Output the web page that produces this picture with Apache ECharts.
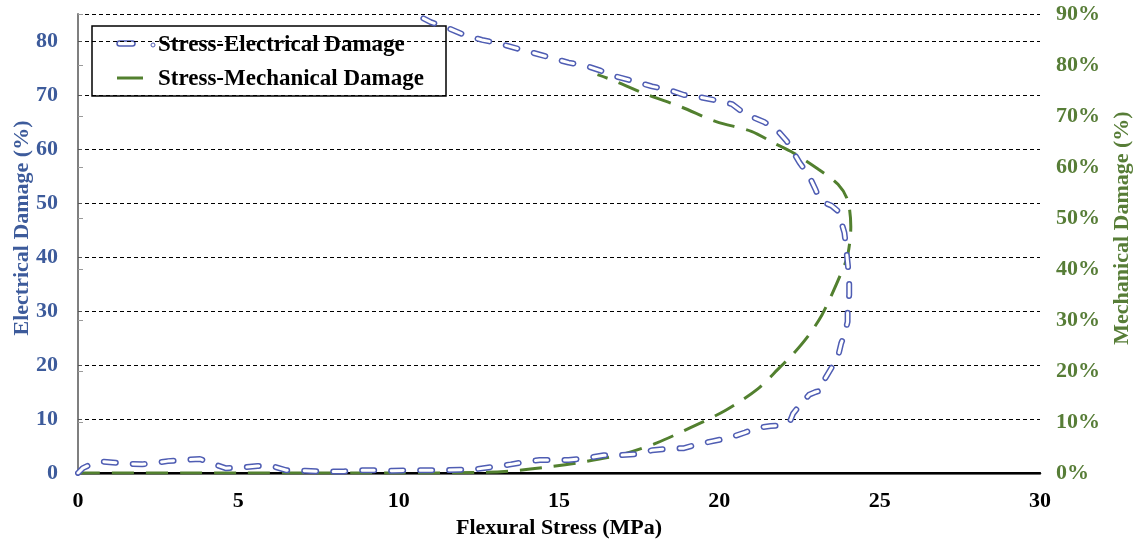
<!DOCTYPE html>
<html>
<head>
<meta charset="utf-8">
<script src="https://cdn.jsdelivr.net/npm/echarts@6/dist/echarts.min.js"></script>
<style>
  html, body { margin: 0; padding: 0; background: #fff; overflow: hidden; }
  #chart { width: 1138px; height: 544px; }
</style>
</head>
<body>
<div id="chart"></div>
<script>
// Flexural stress (MPa) vs. electrical damage (%) — loading then softening branch
const elecStress = [0, 0.15, 0.4, 0.8, 1.2, 1.6, 2.0, 2.4, 2.8, 3.3, 3.8, 4.2, 4.6, 5.1, 5.6, 6.1, 6.5, 7.1, 7.7, 8.3,
  8.8, 9.3, 9.8, 10.3, 10.8, 11.4, 11.9, 12.4, 13.0, 13.5, 14.0, 14.4, 14.9, 15.3, 15.9, 16.4, 16.9, 17.4, 17.9, 18.4,
  18.9, 19.3, 19.8, 20.3, 20.8, 21.2, 21.6, 21.9, 22.2, 22.3, 22.5, 22.8, 23.0, 23.2, 23.3, 23.5, 23.7, 23.8, 23.9, 24.0,
  24.0, 24.05, 24.05, 24.0, 23.95, 23.9, 23.8, 23.7, 23.5, 23.3, 23.1, 23.0, 22.8, 22.5, 22.3, 22.1, 21.8, 21.4, 20.8, 20.4,
  19.9, 19.4, 18.9, 18.4, 17.9, 17.3, 16.8, 16.3, 15.9, 15.3, 14.8, 14.2, 13.7, 13.1, 12.6, 12.1, 11.5, 11.0, 10.5];
const elecDamage = [0, 0.9, 1.6, 2.1, 1.9, 1.7, 1.6, 1.9, 2.2, 2.4, 2.6, 1.7, 0.9, 1.0, 1.3, 1.2, 0.5, 0.4, 0.3, 0.3,
  0.5, 0.5, 0.4, 0.5, 0.5, 0.5, 0.6, 0.7, 1.2, 1.6, 2.1, 2.4, 2.4, 2.4, 2.8, 3.3, 3.3, 3.5, 4.2, 4.5,
  4.6, 5.3, 5.9, 6.5, 7.5, 8.4, 8.7, 8.8, 9.5, 11.0, 12.5, 14.5, 15.0, 15.3, 17.5, 19.5, 21.5, 24.0, 25.6, 28.0,
  30.0, 33.0, 36.0, 39.0, 42.0, 44.5, 46.5, 48.5, 49.5, 50.0, 51.0, 52.5, 55.0, 57.5, 59.5, 61.5, 63.5, 65.0, 66.5, 68.3,
  69.0, 69.6, 70.0, 71.0, 71.6, 72.6, 73.4, 74.5, 75.3, 76.0, 76.8, 77.8, 78.6, 79.6, 80.2, 81.0, 82.5, 83.5, 85.0];

// Flexural stress (MPa) vs. mechanical damage (%)
const mechStress = [0, 5, 10, 12.5, 13.5, 14.7, 15.7, 17.0, 18.05, 19.1, 20.2, 21.2, 21.9, 22.3, 22.8, 23.2, 23.5,
  23.8, 24.0, 24.1, 24.0, 23.7, 23.1, 22.3, 21.7, 21.0, 19.9, 18.8, 17.7, 16.6, 16.2];
const mechDamage = [0, 0, 0, 0.1, 0.4, 1.2, 2.1, 3.7, 5.9, 8.9, 12.3, 16.5, 20.8, 23.3, 27.1, 31.0, 34.9,
  39.2, 42.6, 48.3, 53.5, 56.6, 59.5, 62.8, 64.7, 67.0, 68.9, 71.8, 74.3, 77.2, 78.1];

const stressTicks = [0, 5, 10, 15, 20, 25, 30];
const elecTicks = [0, 10, 20, 30, 40, 50, 60, 70, 80];
const mechTicks = [0, 10, 20, 30, 40, 50, 60, 70, 80, 90];

const seriesNames = ['Stress-Electrical Damage', 'Stress-Mechanical Damage'];
const axisTitles = { x: 'Flexural Stress (MPa)', left: 'Electrical Damage (%)', right: 'Mechanical Damage (%)' };

const BLUE = '#4f5db3';
const BLUE_TEXT = '#3d5b9b';
const GREEN = '#52802f';
const GREEN_TEXT = '#577d37';
const FONT = '"Liberation Serif", "Times New Roman", serif';

const elecPairs = elecStress.map((s, i) => [s, elecDamage[i]]);
const mechPairs = mechStress.map((s, i) => [s, mechDamage[i]]);

const chart = echarts.init(document.getElementById('chart'), null, { renderer: 'canvas' });

const labelFont = { fontFamily: FONT, fontWeight: 'bold', fontSize: 22 };
const step = (arr) => arr[1] - arr[0];

chart.setOption({
  backgroundColor: '#fff',
  animation: false,
  grid: { left: 78, right: 98, top: 14, bottom: 63, containLabel: false },
  xAxis: [
    {
      type: 'value', position: 'bottom',
      min: stressTicks[0], max: stressTicks[stressTicks.length - 1], interval: step(stressTicks),
      axisLine: { lineStyle: { color: '#3a3a3a', width: 2.5 } },
      axisTick: { show: false },
      splitLine: { show: false },
      axisLabel: Object.assign({ color: '#000', margin: 17 }, labelFont),
      name: axisTitles.x, nameLocation: 'middle', nameGap: 44,
      nameTextStyle: Object.assign({ color: '#000' }, labelFont)
    },
    {
      type: 'value', position: 'top',
      min: stressTicks[0], max: stressTicks[stressTicks.length - 1], interval: step(stressTicks),
      axisLine: { lineStyle: { color: '#000', width: 2 } },
      axisTick: { show: false }, axisLabel: { show: false }, splitLine: { show: false }
    }
  ],
  yAxis: [
    {
      type: 'value', position: 'left',
      min: 0, max: 85, interval: step(elecTicks),
      axisLine: { show: true, lineStyle: { color: '#222', width: 1.5 } },
      axisTick: { show: true, inside: true, length: 4, lineStyle: { color: '#555' } },
      axisLabel: Object.assign({
        color: BLUE_TEXT, margin: 20,
        formatter: (v) => (elecTicks.indexOf(v) >= 0 ? String(v) : '')
      }, labelFont),
      splitLine: { show: true, lineStyle: { color: '#000', width: 1, type: [4, 3] } }
    },
    {
      type: 'value', position: 'right',
      min: mechTicks[0], max: mechTicks[mechTicks.length - 1], interval: step(mechTicks),
      axisLine: { show: true, lineStyle: { color: '#8c8c8c', width: 1.5 } },
      axisTick: { show: true, length: 5, lineStyle: { color: '#9a9a9a' } },
      axisLabel: Object.assign({ color: GREEN_TEXT, margin: 16, formatter: '{value}%' }, labelFont),
      splitLine: { show: false }
    }
  ],
  series: [
    {
      name: seriesNames[1], type: 'line', xAxisIndex: 0, yAxisIndex: 1,
      data: mechPairs, showSymbol: false, symbol: 'none', smooth: 0.3,
      lineStyle: { color: GREEN, width: 3, type: [22, 12] }, z: 2
    },
    {
      name: seriesNames[0], type: 'line', xAxisIndex: 0, yAxisIndex: 0,
      data: elecPairs, showSymbol: false, symbol: 'none',
      lineStyle: { color: BLUE, width: 6, type: [12, 17], cap: 'round', join: 'round' }, z: 3
    },
    {
      // white core that makes the electrical dashes hollow
      name: 'electrical-core', type: 'line', xAxisIndex: 0, yAxisIndex: 0,
      data: elecPairs, showSymbol: false, symbol: 'none', silent: true,
      lineStyle: { color: '#fff', width: 3, type: [12, 17], cap: 'round', join: 'round' }, z: 4
    }
  ],
  graphic: [
    {
      type: 'text', x: 22, y: 228, rotation: Math.PI / 2,
      style: { text: axisTitles.left, font: 'bold 22px ' + FONT, fill: BLUE_TEXT, align: 'center', verticalAlign: 'middle' }
    },
    {
      type: 'text', x: 1122, y: 228, rotation: Math.PI / 2,
      style: { text: axisTitles.right, font: 'bold 22px ' + FONT, fill: GREEN_TEXT, align: 'center', verticalAlign: 'middle' }
    },
    {
      type: 'group', z: 100,
      children: [
        { type: 'rect', shape: { x: 92, y: 26, width: 354, height: 70 },
          style: { fill: '#fff', stroke: '#000', lineWidth: 1.5 } },
        { type: 'rect', shape: { x: 117, y: 41, width: 18, height: 5, r: 2.5 },
          style: { fill: '#fff', stroke: BLUE, lineWidth: 1.5 } },
        { type: 'circle', shape: { cx: 153, cy: 45, r: 2 },
          style: { fill: '#fff', stroke: BLUE, lineWidth: 1 } },
        { type: 'text', x: 158, y: 45,
          style: { text: seriesNames[0], font: 'bold 23px ' + FONT, fill: '#000', verticalAlign: 'middle' } },
        { type: 'line', shape: { x1: 117, y1: 78, x2: 143, y2: 78 },
          style: { stroke: GREEN, lineWidth: 3 } },
        { type: 'text', x: 158, y: 79,
          style: { text: seriesNames[1], font: 'bold 23px ' + FONT, fill: '#000', verticalAlign: 'middle' } }
      ]
    }
  ]
});
</script>
</body>
</html>
